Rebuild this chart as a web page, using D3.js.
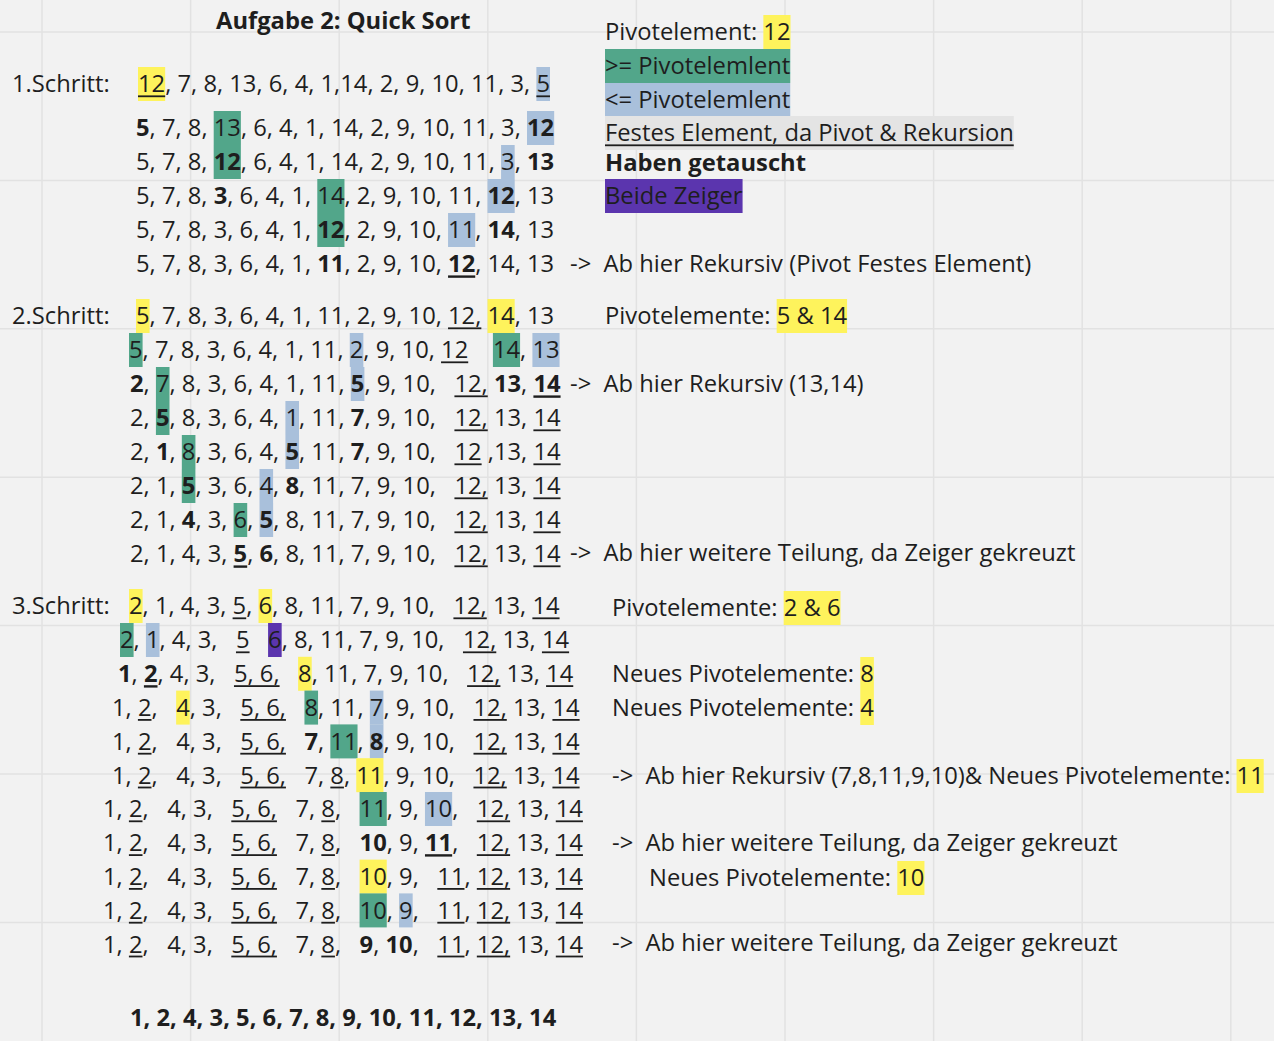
<!DOCTYPE html>
<html>
<head>
<meta charset="utf-8">
<script src="https://cdn.jsdelivr.net/npm/d3@7"></script>
<style>
  body { margin: 0; background: #f2f2f2; }
  svg text { white-space: pre; }
</style>
</head>
<body>
<script>
// markup: {flags|text}  Y yellow, G green, B blue, P purple, E grey box, b bold, u underline

const title = "Aufgabe 2: Quick Sort";
const stepLabels = ["1.Schritt:", "2.Schritt:", "3.Schritt:"];

const step1Rows = [
    "{Yu|12}, 7, 8, 13, 6, 4, 1,14, 2, 9, 10, 11, 3, {Bu|5}",
    "{b|5}, 7, 8, {G|13}, 6, 4, 1, 14, 2, 9, 10, 11, 3, {Bb|12}",
    "5, 7, 8, {Gb|12}, 6, 4, 1, 14, 2, 9, 10, 11, {B|3}, {b|13}",
    "5, 7, 8, {b|3}, 6, 4, 1, {G|14}, 2, 9, 10, 11, {Bb|12}, 13",
    "5, 7, 8, 3, 6, 4, 1, {Gb|12}, 2, 9, 10, {B|11}, {b|14}, 13",
    "5, 7, 8, 3, 6, 4, 1, {b|11}, 2, 9, 10, {bu|12}, 14, 13"
];

const step2Rows = [
    "{Y|5}, 7, 8, 3, 6, 4, 1, 11, 2, 9, 10, {u|12,} {Y|14}, 13",
    "{G|5}, 7, 8, 3, 6, 4, 1, 11, {B|2}, 9, 10, {u|12}    {G|14}, {B|13}",
    "{b|2}, {G|7}, 8, 3, 6, 4, 1, 11, {Bb|5}, 9, 10,   {u|12,} {b|13}, {bu|14}",
    "2, {Gb|5}, 8, 3, 6, 4, {B|1}, 11, {b|7}, 9, 10,   {u|12,} 13, {u|14}",
    "2, {b|1}, {G|8}, 3, 6, 4, {Bb|5}, 11, {b|7}, 9, 10,   {u|12} ,13, {u|14}",
    "2, 1, {Gb|5}, 3, 6, {B|4}, {b|8}, 11, 7, 9, 10,   {u|12,} 13, {u|14}",
    "2, 1, {b|4}, 3, {G|6}, {Bb|5}, 8, 11, 7, 9, 10,   {u|12,} 13, {u|14}",
    "2, 1, 4, 3, {bu|5}, {b|6}, 8, 11, 7, 9, 10,   {u|12,} 13, {u|14}"
];

const step3Rows = [
    "{Y|2}, 1, 4, 3, {u|5}, {Y|6}, 8, 11, 7, 9, 10,   {u|12,} 13, {u|14}",
    "{G|2}, {B|1}, 4, 3,   {u|5}   {P|6}, 8, 11, 7, 9, 10,   {u|12,} 13, {u|14}",
    "{b|1}, {bu|2}, 4, 3,   {u|5, 6,}   {Y|8}, 11, 7, 9, 10,   {u|12,} 13, {u|14}",
    "1, {u|2},   {Y|4}, 3,   {u|5, 6,}   {G|8}, 11, {B|7}, 9, 10,   {u|12,} 13, {u|14}",
    "1, {u|2},   4, 3,   {u|5, 6,}   {b|7}, {G|11}, {Bb|8}, 9, 10,   {u|12,} 13, {u|14}",
    "1, {u|2},   4, 3,   {u|5, 6,}   7, {u|8}, {Y|11}, 9, 10,   {u|12,} 13, {u|14}",
    "1, {u|2},   4, 3,   {u|5, 6,}   7, {u|8},   {G|11}, 9, {B|10},   {u|12,} 13, {u|14}",
    "1, {u|2},   4, 3,   {u|5, 6,}   7, {u|8},   {b|10}, 9, {bu|11},   {u|12,} 13, {u|14}",
    "1, {u|2},   4, 3,   {u|5, 6,}   7, {u|8},   {Y|10}, 9,   {u|11}, {u|12,} 13, {u|14}",
    "1, {u|2},   4, 3,   {u|5, 6,}   7, {u|8},   {G|10}, {B|9},   {u|11}, {u|12,} 13, {u|14}",
    "1, {u|2},   4, 3,   {u|5, 6,}   7, {u|8},   {b|9}, {b|10},   {u|11}, {u|12,} 13, {u|14}"
];

const resultRow = "{b|1, 2, 4, 3, 5, 6, 7, 8, 9, 10, 11, 12, 13, 14}";

const legendItems = [
    "Pivotelement: {Y|12}",
    "{G|>= Pivotelemlent}",
    "{B|<= Pivotelemlent}",
    "{Eu|Festes Element, da Pivot & Rekursion}",
    "{b|Haben getauscht}",
    "{P|Beide Zeiger}"
];

const notes = [
    "->  Ab hier Rekursiv (Pivot Festes Element)",
    "Pivotelemente: {Y|5 & 14}",
    "->  Ab hier Rekursiv (13,14)",
    "->  Ab hier weitere Teilung, da Zeiger gekreuzt",
    "Pivotelemente: {Y|2 & 6}",
    "Neues Pivotelemente: {Y|8}",
    "Neues Pivotelemente: {Y|4}",
    "->  Ab hier Rekursiv (7,8,11,9,10)& Neues Pivotelemente: {Y|11}",
    "->  Ab hier weitere Teilung, da Zeiger gekreuzt",
    "Neues Pivotelemente: {Y|10}",
    "->  Ab hier weitere Teilung, da Zeiger gekreuzt"
];

// ---- layout ----
const width = 1274, height = 1041;
const fontSize = 23.75;
const colors = { Y: "#fef35c", G: "#52a68a", B: "#a9c0db", P: "#5b35ae", E: "#e4e4e4" };
const ink = "#1e1e1e";

const steps = [
    { rows: step1Rows, y0: 84, first: 44, dy: 34, xs: [138, 136, 136, 136, 136, 136] },
    { rows: step2Rows, y0: 316, first: 34, dy: 34, xs: [136, 129, 130, 130, 130, 130, 130, 130] },
    { rows: step3Rows, y0: 606, first: 34, dy: 33.8, xs: [129, 120, 118, 112, 112, 112, 103, 103, 103, 103, 103] }
];
const legendX = 605, legendY = [32, 66, 100, 133, 163, 196];
const notePos = [[570, 264], [605, 316], [570, 384], [570, 553], [612, 608], [612, 674],
                 [612, 708], [612, 776], [612, 843], [649, 878], [612, 943]];

const svg = d3.select("body").append("svg")
    .attr("width", width)
    .attr("height", height)
    .style("font-family", "'Open Sans', sans-serif")
    .style("font-size", fontSize + "px");

svg.append("rect").attr("width", width).attr("height", height).attr("fill", "#f2f2f2");

// grid
const gridX = d3.range(42, width, 148.6), gridY = d3.range(32, height, 148.4);
const grid = svg.append("g").attr("stroke", "#e2e2e2").attr("stroke-width", 1.5);
grid.selectAll("line.v").data(gridX).enter().append("line")
    .attr("class", "v").attr("x1", d => d).attr("x2", d => d).attr("y1", 0).attr("y2", height);
grid.selectAll("line.h").data(gridY).enter().append("line")
    .attr("class", "h").attr("y1", d => d).attr("y2", d => d).attr("x1", 0).attr("x2", width);

const boxLayer = svg.append("g");
const textLayer = svg.append("g");

function parse(str) {
    const out = [];
    const re = /\{([A-Za-z]*)\|([^}]*)\}/g;
    let last = 0, m;
    while ((m = re.exec(str))) {
        if (m.index > last) out.push({ text: str.slice(last, m.index), f: "" });
        out.push({ text: m[2], f: m[1] });
        last = re.lastIndex;
    }
    if (last < str.length) out.push({ text: str.slice(last), f: "" });
    return out;
}

function drawLine(str, x0, cy) {
    let x = x0;
    parse(str).forEach(s => {
        const bold = s.f.includes("b");
        const t = textLayer.append("text")
            .attr("x", x)
            .attr("y", cy + 8.4)
            .attr("xml:space", "preserve")
            .attr("fill", ink)
            .attr("font-weight", bold ? 700 : 400)
            .text(s.text);
        const w = t.node().getComputedTextLength();
        const fillKey = ["Y", "G", "B", "P", "E"].find(k => s.f.includes(k));
        if (fillKey) {
            boxLayer.append("rect")
                .attr("x", x).attr("y", cy - 17)
                .attr("width", w).attr("height", 34)
                .attr("fill", colors[fillKey]);
        }
        if (s.f.includes("u")) {
            textLayer.append("rect")
                .attr("x", x).attr("y", cy + 11.4)
                .attr("width", w).attr("height", bold ? 2.4 : 1.8)
                .attr("fill", ink);
        }
        x += w;
    });
}

// title
drawLine("{b|" + title + "}", 216, 21);

// steps
steps.forEach((st, si) => {
    const y = d3.scaleLinear().domain([1, 2]).range([st.y0 + st.first, st.y0 + st.first + st.dy]);
    drawLine(stepLabels[si], 12, st.y0);
    st.rows.forEach((r, i) => drawLine(r, st.xs[i], i === 0 ? st.y0 : y(i)));
});

drawLine(resultRow, 130, 1018);

legendItems.forEach((d, i) => drawLine(d, legendX, legendY[i]));
notes.forEach((d, i) => drawLine(d, notePos[i][0], notePos[i][1]));
</script>
</body>
</html>
